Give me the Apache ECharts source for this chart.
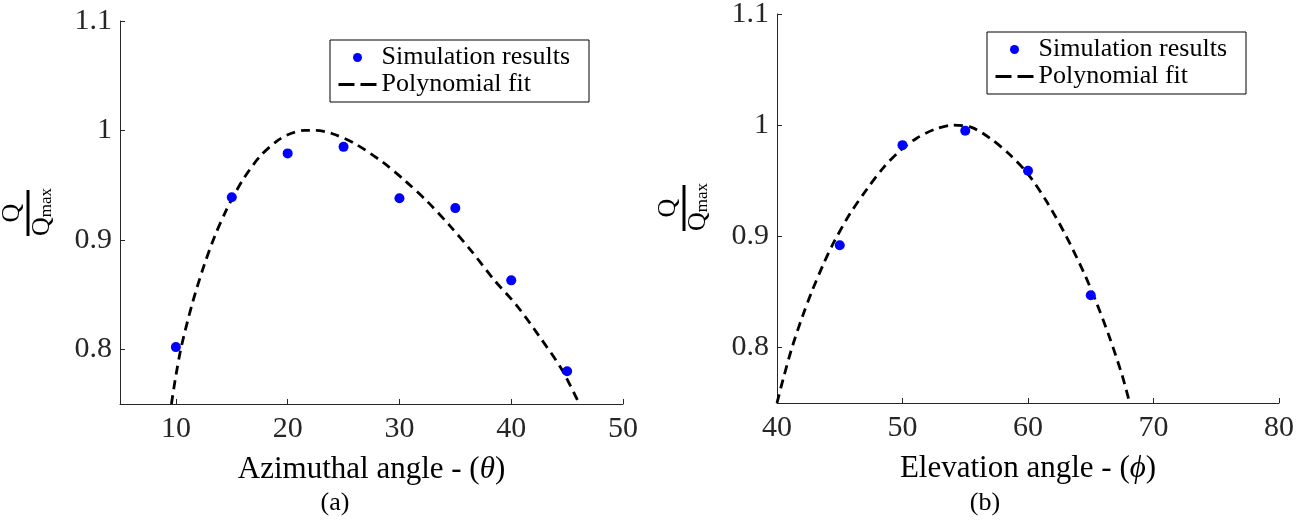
<!DOCTYPE html>
<html>
<head>
<meta charset="utf-8">
<script src="https://cdn.jsdelivr.net/npm/echarts@6/dist/echarts.min.js"></script>
<style>
  html, body { margin: 0; padding: 0; background: #fff; }
  #chart { width: 1311px; height: 524px; }
</style>
</head>
<body>
<div id="chart"></div>
<script>
// (a) azimuthal sweep: simulated points and the polynomial fit
const azimuthAngles = [10, 15, 20, 25, 30, 35, 40, 45];
const azimuthQ = [0.802, 0.939, 0.979, 0.985, 0.938, 0.929, 0.863, 0.780];
const azimuthFitX = [9.6, 10, 10.5, 11.5, 12.5, 13.5, 14.5, 15, 16, 17.5, 19, 20, 21.5, 22.5, 24, 26, 28.5, 30.5, 32.5, 34.5, 36.5, 38.5, 40.5, 42.5, 44.5, 46.1];
const azimuthFitQ = [0.750, 0.776, 0.803, 0.843, 0.876, 0.904, 0.927, 0.937, 0.955, 0.976, 0.990, 0.996, 1.000, 1.000, 0.997, 0.988, 0.971, 0.954, 0.935, 0.913, 0.889, 0.863, 0.840, 0.812, 0.782, 0.750];

// (b) elevation sweep: simulated points and the polynomial fit
const elevationAngles = [45, 50, 55, 60, 65];
const elevationQ = [0.892, 0.982, 0.995, 0.959, 0.847];
const elevationFitX = [40, 40.5, 41.2, 42, 42.8, 43.7, 44.5, 45.8, 47.2, 48.5, 49.8, 51.1, 52.5, 54, 55.5, 57, 58.5, 60, 61.5, 63, 64.5, 65.5, 66.5, 67.5, 68.1];
const elevationFitQ = [0.750, 0.772, 0.800, 0.827, 0.851, 0.875, 0.894, 0.920, 0.943, 0.962, 0.977, 0.988, 0.996, 1.000, 0.998, 0.988, 0.974, 0.956, 0.931, 0.901, 0.866, 0.839, 0.809, 0.775, 0.750];

// tick labels
const azimuthTicks = [10, 20, 30, 40, 50];
const elevationTicks = [40, 50, 60, 70, 80];
const qTicks = [0.8, 0.9, 1, 1.1];

const SERIF = '"Liberation Serif", "Times New Roman", serif';
const INK = '#262626';

const pairs = (xs, ys) => xs.map((x, i) => [x, ys[i]]);

function xAxisFor(gridIndex, min, max, ticks, name) {
  return {
    type: 'value', gridIndex, min, max,
    name, nameLocation: 'middle', nameGap: 50,
    nameTextStyle: {
      fontFamily: SERIF, fontSize: 31, color: '#000',
      rich: { i: { fontFamily: SERIF, fontSize: 31, fontStyle: 'italic', color: '#000' } }
    },
    axisLine: { show: true, lineStyle: { color: INK, width: 1 } },
    axisTick: { show: true, inside: true, length: 5, customValues: ticks, lineStyle: { color: INK, width: 1 } },
    axisLabel: { customValues: ticks, fontFamily: SERIF, fontSize: 30, color: INK, margin: 10 },
    splitLine: { show: false }
  };
}

function yAxisFor(gridIndex) {
  return {
    type: 'value', gridIndex, min: 0.75, max: 1.1,
    axisLine: { show: true, onZero: false, lineStyle: { color: INK, width: 1 } },
    axisTick: { show: true, inside: true, length: 5, customValues: qTicks, lineStyle: { color: INK, width: 1 } },
    axisLabel: { customValues: qTicks, fontFamily: SERIF, fontSize: 30, color: INK, margin: 8,
      formatter: v => String(Math.round(v * 10) / 10) },
    splitLine: { show: false }
  };
}

function legendAt(left, top) {
  return {
    left, top, orient: 'vertical',
    data: [
      { name: 'Simulation results', icon: 'circle' },
      // dashed line only, no marker on the key
      { name: 'Polynomial fit', itemStyle: { opacity: 0, color: 'transparent', borderWidth: 0 } }
    ],
    itemWidth: 38, itemHeight: 9, itemGap: 0,
    padding: [4, 19, 4, 7],
    borderColor: '#000', borderWidth: 1, backgroundColor: '#fff',
    textStyle: { fontFamily: SERIF, fontSize: 26, lineHeight: 27, color: '#000' },
    lineStyle: { type: [16, 6], width: 3, color: '#000' },
    selectedMode: false
  };
}

function fraction(x, y) {
  return {
    type: 'group', x, y, rotation: Math.PI / 2,
    children: [
      { type: 'text', style: { text: 'Q', x: 0, y: -3, fontFamily: SERIF, fontSize: 26, fill: '#000', align: 'center', verticalAlign: 'bottom' } },
      { type: 'line', shape: { x1: -23, y1: 0, x2: 23, y2: 0 }, style: { stroke: '#000', lineWidth: 3 } },
      { type: 'text', style: {
          text: '{q|Q}{s|max}', x: 1, y: 1, align: 'center', verticalAlign: 'top',
          rich: {
            q: { fontFamily: SERIF, fontSize: 26, fill: '#000' },
            s: { fontFamily: SERIF, fontSize: 17, fill: '#000', padding: [9, 0, 0, 0] }
          }
        } }
    ]
  };
}

const chart = echarts.init(document.getElementById('chart'), null, { renderer: 'canvas' });

chart.setOption({
  backgroundColor: '#fff',
  animation: false,
  grid: [
    { left: 120, top: 21, width: 503, height: 383, outerBoundsMode: 'none', containLabel: false },
    { left: 777, top: 14, width: 502, height: 389, outerBoundsMode: 'none', containLabel: false }
  ],
  xAxis: [
    xAxisFor(0, 5, 50, azimuthTicks, 'Azimuthal angle - ({i|θ})'),
    xAxisFor(1, 40, 80, elevationTicks, 'Elevation angle - ({i|ϕ})')
  ],
  yAxis: [yAxisFor(0), yAxisFor(1)],
  legend: [legendAt(330, 40), legendAt(987, 32)],
  series: [
    {
      name: 'Polynomial fit', type: 'line', xAxisIndex: 0, yAxisIndex: 0,
      data: pairs(azimuthFitX, azimuthFitQ), smooth: 0.3, symbol: 'none',
      lineStyle: { color: '#000', width: 2.8, type: [9, 6] }, itemStyle: { color: '#000' }, z: 2
    },
    {
      name: 'Simulation results', type: 'scatter', xAxisIndex: 0, yAxisIndex: 0,
      data: pairs(azimuthAngles, azimuthQ), symbol: 'circle', symbolSize: 10,
      itemStyle: { color: '#0000ff', opacity: 1 }, z: 3
    },
    {
      name: 'Polynomial fit', type: 'line', xAxisIndex: 1, yAxisIndex: 1,
      data: pairs(elevationFitX, elevationFitQ), smooth: 0.3, symbol: 'none',
      lineStyle: { color: '#000', width: 2.8, type: [9, 6] }, itemStyle: { color: '#000' }, z: 2
    },
    {
      name: 'Simulation results', type: 'scatter', xAxisIndex: 1, yAxisIndex: 1,
      data: pairs(elevationAngles, elevationQ), symbol: 'circle', symbolSize: 10,
      itemStyle: { color: '#0000ff', opacity: 1 }, z: 3
    }
  ],
  graphic: [
    fraction(28, 213),
    fraction(684, 208),
    { type: 'text', style: { text: '(a)', x: 335, y: 503, align: 'center', verticalAlign: 'middle', fontFamily: SERIF, fontSize: 26, fill: '#000' } },
    { type: 'text', style: { text: '(b)', x: 985, y: 503, align: 'center', verticalAlign: 'middle', fontFamily: SERIF, fontSize: 26, fill: '#000' } }
  ]
});
</script>
</body>
</html>
